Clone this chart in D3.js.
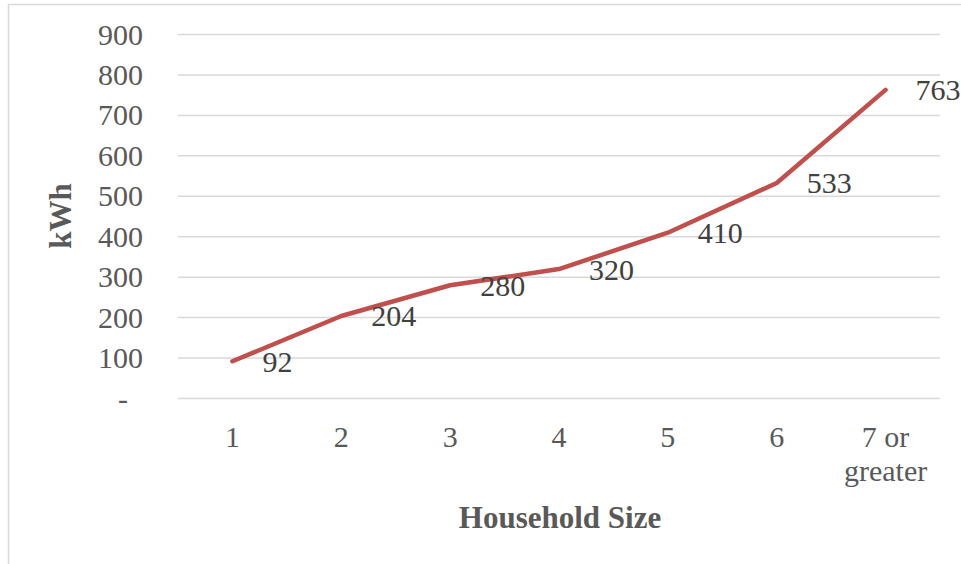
<!DOCTYPE html>
<html>
<head>
<meta charset="utf-8">
<script src="https://cdn.jsdelivr.net/npm/d3@7"></script>
<style>
  body { margin: 0; background: #fff; }
  text { font-family: "Liberation Serif", "Times New Roman", serif; }
</style>
</head>
<body>
<div id="chart"></div>
<script>
// household size categories and monthly kWh
const categories = ["1", "2", "3", "4", "5", "6", "7 or\ngreater"];
const kwhValues = [92, 204, 280, 320, 410, 533, 763];
const yTicks = [0, 100, 200, 300, 400, 500, 600, 700, 800, 900];

const width = 961, height = 564;

const svg = d3.select("#chart").append("svg")
    .attr("width", width)
    .attr("height", height);

// outer chart border
svg.append("rect")
    .attr("x", 8.5).attr("y", 4.5)
    .attr("width", 970).attr("height", 580)
    .attr("fill", "none")
    .attr("stroke", "#d9d9d9")
    .attr("stroke-width", 1.5);

const x = d3.scaleBand()
    .domain(categories)
    .range([178, 940]);

const y = d3.scaleLinear()
    .domain([0, 900])
    .range([398.5, 34.5]);

const cx = d => x(d) + x.bandwidth() / 2;

// gridlines
svg.append("g")
    .selectAll("line")
    .data(yTicks)
    .enter().append("line")
    .attr("x1", 178).attr("x2", 940)
    .attr("y1", d => y(d)).attr("y2", d => y(d))
    .attr("stroke", "#d9d9d9")
    .attr("stroke-width", 1.5);

// y axis labels
const yAxis = svg.append("g")
    .attr("transform", "translate(143,0)")
    .call(d3.axisLeft(y).tickValues(yTicks).tickSize(0).tickPadding(0)
        .tickFormat(d => d === 0 ? "-\u2007" : d3.format("d")(d)));
yAxis.select(".domain").remove();
yAxis.selectAll("text")
    .attr("font-family", "Liberation Serif")
    .attr("font-size", 30)
    .attr("fill", "#595959");

// x axis labels
const xLabels = svg.append("g")
    .selectAll("text")
    .data(categories)
    .enter().append("text")
    .attr("x", d => cx(d))
    .attr("y", 447)
    .attr("text-anchor", "middle")
    .attr("font-size", 30)
    .attr("fill", "#595959");
xLabels.each(function (d) {
    let lines = d.split("\n");
    d3.select(this).selectAll("tspan")
        .data(lines)
        .enter().append("tspan")
        .attr("x", cx(d))
        .attr("dy", (l, i) => i === 0 ? 0 : 34)
        .text(l => l);
});

// line
const line = d3.line()
    .x((d, i) => cx(categories[i]))
    .y(d => y(d));

svg.append("path")
    .datum(kwhValues)
    .attr("d", line)
    .attr("fill", "none")
    .attr("stroke", "#c0504d")
    .attr("stroke-width", 4.5)
    .attr("stroke-linecap", "round")
    .attr("stroke-linejoin", "round");

// data labels (right of point)
svg.append("g")
    .selectAll("text")
    .data(kwhValues)
    .enter().append("text")
    .attr("x", (d, i) => cx(categories[i]) + 30)
    .attr("y", d => y(d))
    .attr("dy", "0.35em")
    .attr("font-size", 30)
    .attr("fill", "#404040")
    .text(d => d);

// axis titles
svg.append("text")
    .attr("transform", "translate(71,216) rotate(-90)")
    .attr("text-anchor", "middle")
    .attr("font-size", 31)
    .attr("font-weight", "bold")
    .attr("fill", "#595959")
    .text("kWh");

svg.append("text")
    .attr("x", 560)
    .attr("y", 528)
    .attr("text-anchor", "middle")
    .attr("font-size", 31)
    .attr("font-weight", "bold")
    .attr("fill", "#595959")
    .text("Household Size");
</script>
</body>
</html>
